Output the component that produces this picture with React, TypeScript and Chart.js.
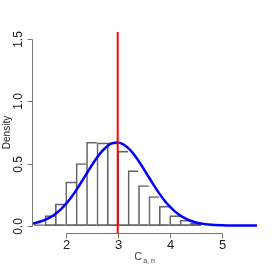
import React, { useEffect, useRef } from "react";
import { Chart, registerables } from "chart.js";

Chart.register(...registerables);

// Histogram bins (centres) and densities
const binCenters = [1.5, 1.7, 1.9, 2.1, 2.3, 2.5, 2.7, 2.9, 3.1, 3.3, 3.5, 3.7, 3.9, 4.1, 4.3, 4.5];
const binDensity = [0.01, 0.08, 0.175, 0.352, 0.5, 0.672, 0.667, 0.667, 0.6, 0.443, 0.323, 0.234, 0.156, 0.08, 0.043, 0.022];

// Fitted density curve
const curveX = [1.35, 1.4, 1.5, 1.6, 1.7, 1.8, 1.9, 2.0, 2.1, 2.2, 2.3, 2.4, 2.5, 2.6, 2.7, 2.8, 2.9, 3.0, 3.1, 3.2, 3.3, 3.4, 3.5, 3.6, 3.7, 3.8, 3.9, 4.0, 4.1, 4.2, 4.3, 4.4, 4.5, 4.6, 4.8, 5.0, 5.3, 5.68];
const curveY = [0.0157, 0.0197, 0.0304, 0.0455, 0.0662, 0.0937, 0.129, 0.1725, 0.2244, 0.2837, 0.3487, 0.4166, 0.4839, 0.5464, 0.5998, 0.6401, 0.664, 0.6696, 0.6565, 0.6257, 0.5798, 0.5223, 0.4573, 0.3893, 0.3222, 0.2592, 0.2027, 0.1541, 0.114, 0.0819, 0.0572, 0.0388, 0.0256, 0.0165, 0.0062, 0.0021, 0.0003, 0.0];

// Vertical reference line
const refLineX = 3;

// Axis ticks
const xTicks = [2, 3, 4, 5];
const xTickLabels = ["2", "3", "4", "5"];
const yTicks = [0, 0.5, 1.0, 1.5];
const yTickLabels = ["0.0", "0.5", "1.0", "1.5"];

const X_MIN = 1.352;
const X_MAX = 5.68;
const Y_MIN = -0.06;
const Y_MAX = 1.56;

const axisPlugin = {
  id: "rAxes",
  afterDraw(chart: any) {
    const { ctx, chartArea, scales } = chart;
    const xs = scales.x;
    const ys = scales.y;
    ctx.save();
    ctx.strokeStyle = "#777";
    ctx.lineWidth = 1;
    ctx.fillStyle = "#222";

    // Y axis
    const ax = Math.round(chartArea.left) + 0.5;
    const yTop = ys.getPixelForValue(yTicks[yTicks.length - 1]);
    const yBot = ys.getPixelForValue(yTicks[0]);
    ctx.beginPath();
    ctx.moveTo(ax, Math.round(yTop) + 0.5);
    ctx.lineTo(ax, Math.round(yBot) + 0.5);
    ctx.stroke();
    ctx.font = "12px 'Liberation Sans', Arial, sans-serif";
    yTicks.forEach((t, i) => {
      const py = Math.round(ys.getPixelForValue(t)) + 0.5;
      ctx.beginPath();
      ctx.moveTo(ax - 5, py);
      ctx.lineTo(ax, py);
      ctx.stroke();
      ctx.save();
      ctx.translate(22, py);
      ctx.rotate(-Math.PI / 2);
      ctx.textAlign = "center";
      ctx.textBaseline = "alphabetic";
      ctx.fillText(yTickLabels[i], 0, 0);
      ctx.restore();
    });

    // Y title
    ctx.save();
    ctx.font = "10px 'Liberation Sans', Arial, sans-serif";
    ctx.translate(10, (chartArea.top + chartArea.bottom) / 2);
    ctx.rotate(-Math.PI / 2);
    ctx.textAlign = "center";
    ctx.textBaseline = "alphabetic";
    ctx.fillText("Density", 0, 0);
    ctx.restore();

    // X axis
    const ay = Math.round(chartArea.bottom) + 0.5;
    const xL = xs.getPixelForValue(xTicks[0]);
    const xR = xs.getPixelForValue(xTicks[xTicks.length - 1]);
    ctx.beginPath();
    ctx.moveTo(Math.round(xL) + 0.5, ay);
    ctx.lineTo(Math.round(xR) + 0.5, ay);
    ctx.stroke();
    ctx.font = "13px 'Liberation Sans', Arial, sans-serif";
    ctx.textAlign = "center";
    ctx.textBaseline = "alphabetic";
    xTicks.forEach((t, i) => {
      const px = Math.round(xs.getPixelForValue(t)) + 0.5;
      ctx.beginPath();
      ctx.moveTo(px, ay);
      ctx.lineTo(px, ay + 5);
      ctx.stroke();
      ctx.fillText(xTickLabels[i], px, ay + 15);
    });

    // X title: C with subscript "a, n"
    ctx.fillStyle = "#444";
    const mainFont = "11px 'Liberation Sans', Arial, sans-serif";
    const subFont = "7px 'Liberation Sans', Arial, sans-serif";
    ctx.font = mainFont;
    const wMain = ctx.measureText("C").width;
    ctx.font = subFont;
    const wSub = ctx.measureText("a, n").width;
    const total = wMain + 1 + wSub;
    const cx = (chartArea.left + chartArea.right) / 2;
    const startX = cx - total / 2;
    ctx.textAlign = "left";
    ctx.font = mainFont;
    ctx.fillText("C", startX, 260);
    ctx.font = subFont;
    ctx.fillText("a, n", startX + wMain + 1, 263);

    ctx.restore();
  },
};

export default function App() {
  const canvasRef = useRef<HTMLCanvasElement | null>(null);

  useEffect(() => {
    const canvas = canvasRef.current;
    if (!canvas) return;
    const lastBar = binCenters.length - 1;
    const chart = new Chart(canvas, {
      type: "bar",
      data: {
        datasets: [
          {
            type: "line",
            label: "ref",
            data: [
              { x: refLineX, y: Y_MIN },
              { x: refLineX, y: Y_MAX },
            ],
            borderColor: "#ff0000",
            borderWidth: 2,
            pointRadius: 0,
            order: 0,
          } as any,
          {
            type: "line",
            label: "density",
            data: curveX.map((x, i) => ({ x, y: curveY[i] })),
            borderColor: "#0000ff",
            borderWidth: 2.5,
            pointRadius: 0,
            cubicInterpolationMode: "monotone",
            order: 1,
          } as any,
          {
            type: "bar",
            label: "hist",
            data: binCenters.map((x, i) => ({ x, y: binDensity[i] })),
            backgroundColor: "rgba(0,0,0,0)",
            borderColor: "#666",
            borderWidth: (c: any) => ({
              left: 1,
              top: 1,
              bottom: 1,
              right: c.dataIndex === lastBar ? 1 : 0,
            }),
            borderSkipped: false,
            barPercentage: 1,
            categoryPercentage: 1,
            grouped: false,
            order: 2,
          } as any,
        ],
      },
      options: {
        responsive: false,
        animation: false,
        devicePixelRatio: 1,
        layout: { padding: { left: 32, right: 16, top: 32, bottom: 40 } },
        plugins: { legend: { display: false }, tooltip: { enabled: false } },
        scales: {
          x: { type: "linear", min: X_MIN, max: X_MAX, display: false, offset: false },
          y: { type: "linear", min: Y_MIN, max: Y_MAX, display: false },
        },
      },
      plugins: [axisPlugin],
    });
    return () => chart.destroy();
  }, []);

  return (
    <div style={{ position: "absolute", left: 0, top: 0, width: 273, height: 273, background: "#fff" }}>
      <canvas ref={canvasRef} width={273} height={273} style={{ width: 273, height: 273 }} />
    </div>
  );
}
